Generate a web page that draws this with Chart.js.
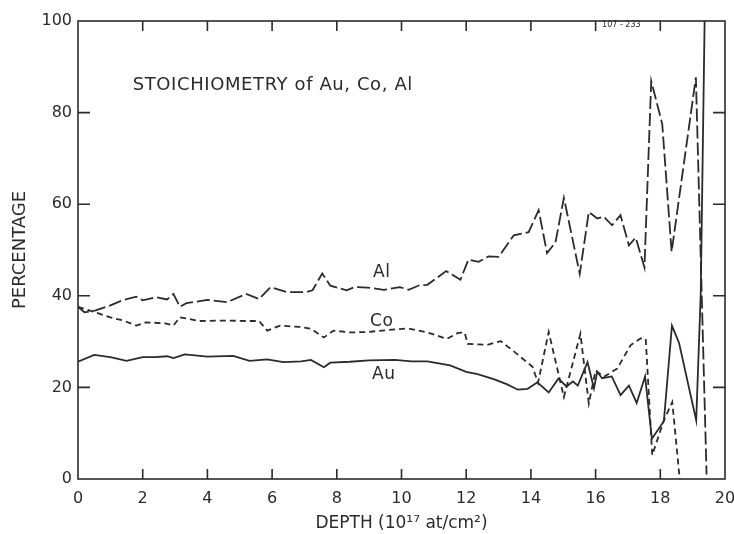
<!DOCTYPE html>
<html>
<head>
<meta charset="utf-8">
<script src="https://cdn.jsdelivr.net/npm/chart.js@4.4.1/dist/chart.umd.min.js"></script>
<style>
  html, body { margin: 0; padding: 0; background: #fff; }
  #wrap { width: 734px; height: 534px; }
</style>
</head>
<body>
<div id="wrap"><canvas id="chart"></canvas></div>
<script>
// depth in 10^17 at/cm^2, percentage
var auDepth = [0, 0.5, 1.0, 1.5, 2.0, 2.4, 2.75, 2.95, 3.3, 4.0, 4.8, 5.3, 5.85, 6.35, 6.9, 7.2, 7.6, 7.8, 8.4, 9.0, 9.8, 10.3, 10.8, 11.5, 12.0, 12.35, 12.85, 13.25, 13.6, 13.9, 14.2, 14.55, 14.85, 15.1, 15.3, 15.45, 15.75, 15.95, 16.05, 16.2, 16.5, 16.77, 17.03, 17.27, 17.53, 17.74, 18.11, 18.36, 18.58, 19.11, 19.25, 19.37];
var auPct   = [25.6, 27.1, 26.6, 25.8, 26.6, 26.6, 26.8, 26.4, 27.2, 26.7, 26.9, 25.8, 26.1, 25.5, 25.7, 26.0, 24.4, 25.4, 25.6, 25.9, 26.0, 25.7, 25.7, 24.8, 23.4, 22.9, 21.8, 20.7, 19.5, 19.7, 21.1, 18.9, 21.9, 20.2, 21.3, 20.4, 25.5, 19.8, 23.4, 22.0, 22.4, 18.3, 20.4, 16.6, 22.4, 8.8, 12.6, 33.5, 29.7, 12.8, 40.5, 100];

var coDepth = [0, 0.35, 1.0, 1.4, 1.8, 2.1, 2.7, 2.95, 3.15, 3.75, 4.6, 5.2, 5.6, 5.85, 6.25, 6.85, 7.2, 7.6, 7.9, 8.4, 8.95, 9.55, 10.2, 10.8, 11.4, 11.75, 11.95, 12.05, 12.65, 13.07, 13.5, 14.05, 14.22, 14.55, 15.02, 15.53, 15.79, 16.0, 16.25, 16.67, 17.08, 17.39, 17.55, 17.75, 18.11, 18.37, 18.6];
var coPct   = [37.6, 36.8, 35.3, 34.6, 33.5, 34.2, 34.0, 33.5, 35.3, 34.5, 34.6, 34.5, 34.5, 32.4, 33.5, 33.2, 32.8, 30.9, 32.4, 32.0, 32.1, 32.5, 32.9, 32.0, 30.6, 31.9, 32.0, 29.5, 29.3, 30.1, 27.7, 24.5, 21.0, 32.1, 17.9, 31.7, 16.5, 23.7, 22.3, 24.1, 29.2, 30.7, 30.6, 5.2, 12.8, 16.8, 0];

var alDepth = [0, 0.2, 0.55, 1.0, 1.4, 1.8, 2.0, 2.4, 2.75, 2.95, 3.15, 3.35, 4.0, 4.6, 5.2, 5.6, 5.95, 6.45, 7.05, 7.25, 7.55, 7.8, 8.3, 8.55, 8.95, 9.45, 9.95, 10.22, 10.55, 10.8, 11.38, 11.66, 11.82, 12.07, 12.38, 12.69, 13.0, 13.47, 13.93, 14.24, 14.5, 14.76, 15.02, 15.51, 15.79, 16.05, 16.25, 16.51, 16.77, 17.03, 17.24, 17.51, 17.72, 18.06, 18.35, 19.1, 19.43];
var alPct   = [37.6, 36.4, 36.8, 37.9, 39.1, 39.8, 39.0, 39.7, 39.2, 40.4, 37.6, 38.4, 39.1, 38.6, 40.4, 39.3, 41.9, 40.8, 40.8, 41.2, 44.9, 42.2, 41.2, 41.9, 41.8, 41.3, 41.9, 41.3, 42.3, 42.4, 45.4, 44.2, 43.5, 47.9, 47.4, 48.6, 48.5, 53.2, 53.9, 58.7, 49.3, 51.7, 61.4, 44.8, 58.3, 56.9, 57.3, 55.4, 57.6, 51.0, 52.7, 46.2, 86.9, 77.5, 49.6, 87.7, 1.0];

var xTicks = [2, 4, 6, 8, 10, 12, 14, 16, 18];
var yTicks = [20, 40, 60, 80];

// text placed in the plot, at depth / percentage positions
var notes = [
  { text: 'STOICHIOMETRY of Au, Co, Al', x: 1.69, y: 85.0, size: 18, spacing: '0.6px' },
  { text: 'Al', x: 9.12, y: 44.0, size: 17, spacing: '0.5px' },
  { text: 'Co', x: 9.03, y: 33.5, size: 17, spacing: '0.5px' },
  { text: 'Au', x: 9.09, y: 21.8, size: 17, spacing: '0.5px' },
  { text: '107 - 233', x: 16.2, y: 98.6, size: 8, spacing: '0px' }
];

var ink = '#2b2b2b';
var fontFamily = '"DejaVu Sans", sans-serif';

function pairs(xs, ys){
  var out = [];
  for (var i = 0; i < xs.length; i++) out.push({ x: xs[i], y: ys[i] });
  return out;
}

var frameAndTicks = {
  id: 'frameAndTicks',
  afterDraw: function(chart){
    var ctx = chart.ctx, a = chart.chartArea,
        sx = chart.scales.x, sy = chart.scales.y;
    ctx.save();
    ctx.strokeStyle = ink;
    ctx.lineWidth = 1.6;
    ctx.strokeRect(a.left, a.top, a.right - a.left, a.bottom - a.top);
    ctx.beginPath();
    xTicks.forEach(function(v){
      var px = sx.getPixelForValue(v);
      ctx.moveTo(px, a.bottom); ctx.lineTo(px, a.bottom - 10);
      ctx.moveTo(px, a.top);    ctx.lineTo(px, a.top + 10);
    });
    yTicks.forEach(function(v){
      var py = sy.getPixelForValue(v);
      ctx.moveTo(a.left, py);  ctx.lineTo(a.left + 12, py);
      ctx.moveTo(a.right, py); ctx.lineTo(a.right - 12, py);
    });
    ctx.stroke();

    ctx.fillStyle = ink;
    ctx.textBaseline = 'alphabetic';
    ctx.textAlign = 'left';
    notes.forEach(function(n){
      ctx.font = n.size + 'px ' + fontFamily;
      ctx.letterSpacing = n.spacing;
      ctx.fillText(n.text, sx.getPixelForValue(n.x), sy.getPixelForValue(n.y));
    });
    ctx.restore();
  }
};

function series(label, xs, ys, dash){
  return {
    label: label,
    data: pairs(xs, ys),
    borderColor: ink,
    borderWidth: 1.8,
    borderDash: dash,
    pointRadius: 0,
    tension: 0,
    fill: false
  };
}

new Chart(document.getElementById('chart').getContext('2d'), {
  type: 'line',
  data: {
    datasets: [
      series('Au', auDepth, auPct, []),
      series('Co', coDepth, coPct, [6, 4]),
      series('Al', alDepth, alPct, [13, 4])
    ]
  },
  options: {
    responsive: true,
    maintainAspectRatio: false,
    animation: false,
    layout: { padding: { left: 0, right: 9, top: 21, bottom: 0 } },
    plugins: { legend: { display: false }, tooltip: { enabled: false } },
    scales: {
      x: {
        type: 'linear', min: 0, max: 20,
        grid: { display: false, drawTicks: false },
        border: { display: false },
        ticks: { stepSize: 2, color: ink, padding: 10, maxRotation: 0,
                 font: { family: fontFamily, size: 16 } },
        title: { display: true, text: 'DEPTH (10\u00b9\u2077 at/cm\u00b2)', color: ink,
                 font: { family: fontFamily, size: 17 }, padding: { top: 5, bottom: 0 } },
        afterFit: function(s){ s.height = 55; s.paddingLeft = 0; s.paddingRight = 0; }
      },
      y: {
        min: 0, max: 100,
        grid: { display: false, drawTicks: false },
        border: { display: false },
        ticks: { stepSize: 20, color: ink, padding: 6,
                 font: { family: fontFamily, size: 16 } },
        title: { display: true, text: 'PERCENTAGE', color: ink,
                 font: { family: fontFamily, size: 18 }, padding: { top: 10, bottom: 0 } },
        afterFit: function(s){ s.width = 78; s.paddingTop = 0; s.paddingBottom = 0; }
      }
    }
  },
  plugins: [frameAndTicks]
});
</script>
</body>
</html>
